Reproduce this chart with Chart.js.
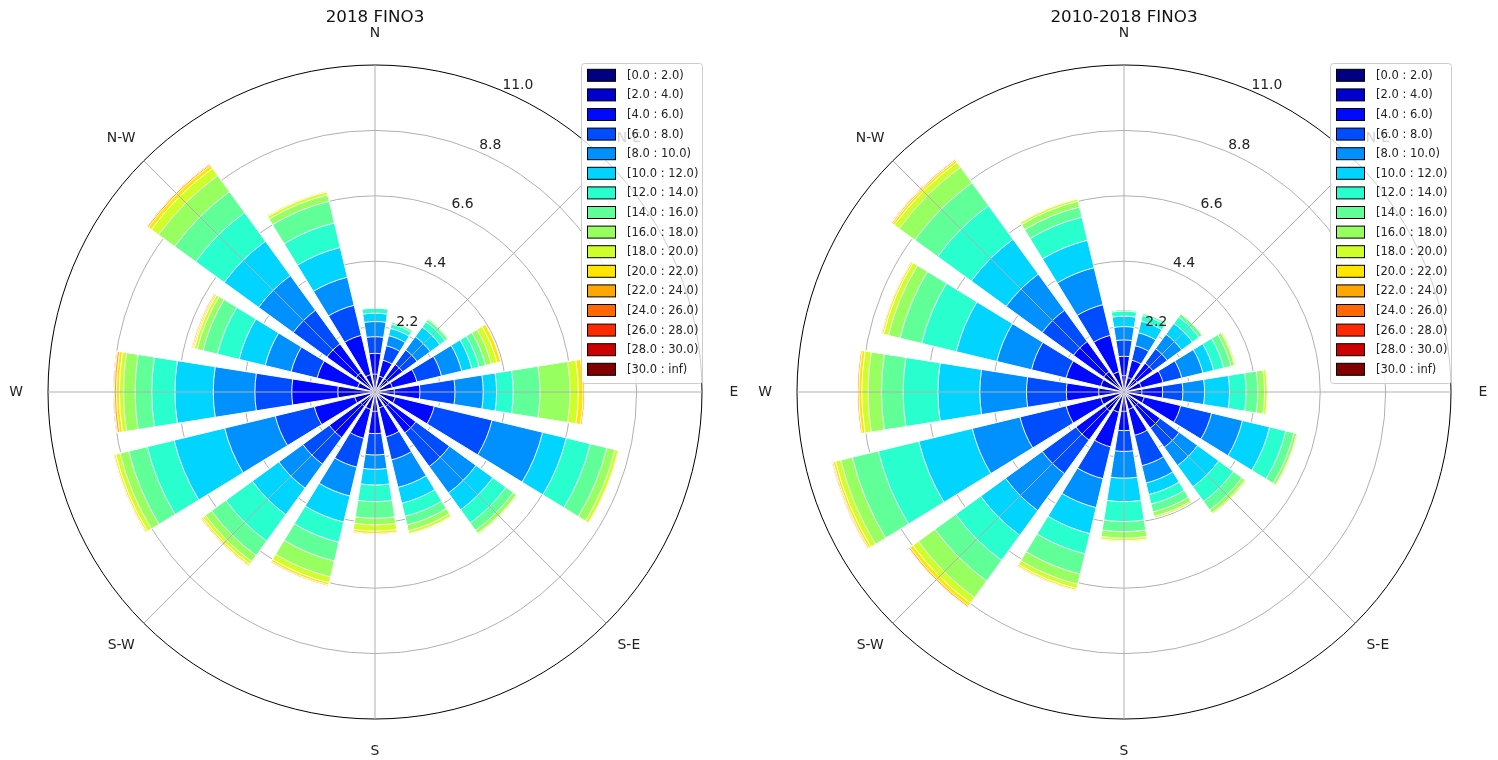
<!DOCTYPE html>
<html>
<head>
<meta charset="utf-8">
<script src="https://cdn.jsdelivr.net/npm/chart.js@4/dist/chart.umd.min.js"></script>
<style>
html, body { margin: 0; padding: 0; background: #ffffff; }
#wrap { display: flex; width: 1498px; height: 760px; }
.cell { width: 749px; height: 760px; position: relative; }
canvas { display: block; }
</style>
</head>
<body>
<div id="wrap">
  <div class="cell"><canvas id="rose2018" width="749" height="760"></canvas></div>
  <div class="cell"><canvas id="rose2010" width="749" height="760"></canvas></div>
</div>
<script>
// ---------- categories / labels ----------
const directions = ['N','NNE','NE','ENE','E','ESE','SE','SSE','S','SSW','SW','WSW','W','WNW','NW','NNW'];
const compassLabels = ['N','N-E','E','S-E','S','S-W','W','N-W'];
const speedBins = ['[0.0 : 2.0)','[2.0 : 4.0)','[4.0 : 6.0)','[6.0 : 8.0)','[8.0 : 10.0)','[10.0 : 12.0)',
  '[12.0 : 14.0)','[14.0 : 16.0)','[16.0 : 18.0)','[18.0 : 20.0)','[20.0 : 22.0)','[22.0 : 24.0)',
  '[24.0 : 26.0)','[26.0 : 28.0)','[28.0 : 30.0)','[30.0 : inf)'];
const radiusTicks = [0, 2.2, 4.4, 6.6, 8.8, 11.0];
const titles = ['2018 FINO3', '2010-2018 FINO3'];

// ---------- 2018 FINO3 : frequency (%) per speed bin, by direction ----------
const y2018_b00 = [0.10,0.10,0.10,0.10,0.10,0.10,0.08,0.08,0.08,0.08,0.08,0.08,0.12,0.08,0.10,0.08];
const y2018_b01 = [0.50,0.45,0.45,0.50,0.55,0.60,0.52,0.47,0.57,0.52,0.52,0.62,1.13,0.52,0.70,0.52];
const y2018_b02 = [0.70,0.55,0.60,0.85,0.86,1.35,1.10,1.00,0.75,1.00,1.30,1.40,1.55,1.40,1.20,1.36];
const y2018_b03 = [0.56,0.50,0.60,0.85,1.18,2.00,1.40,0.80,0.72,1.00,1.10,1.35,1.24,0.90,1.40,1.04];
const y2018_b04 = [0.51,0.35,0.55,0.70,0.95,1.75,1.10,0.95,0.48,1.00,1.00,1.75,1.40,0.90,1.44,0.97];
const y2018_b05 = [0.28,0.25,0.40,0.35,0.45,0.82,0.70,0.55,0.53,0.90,1.10,1.75,1.29,0.90,1.43,1.03];
const y2018_b06 = [0.17,0.15,0.22,0.25,0.56,0.83,0.55,0.45,0.56,0.70,1.10,0.93,0.78,0.75,1.19,0.85];
const y2018_b07 = [0.00,0.07,0.10,0.22,0.90,0.57,0.30,0.30,0.56,0.65,0.60,0.64,0.56,0.50,0.87,0.75];
const y2018_b08 = [0.00,0.00,0.04,0.20,1.01,0.28,0.13,0.20,0.22,0.55,0.25,0.30,0.39,0.20,0.67,0.22];
const y2018_b09 = [0.00,0.00,0.00,0.20,0.28,0.12,0.04,0.10,0.21,0.20,0.11,0.15,0.14,0.10,0.30,0.10];
const y2018_b10 = [0.00,0.00,0.00,0.13,0.16,0.03,0.00,0.03,0.08,0.08,0.06,0.06,0.10,0.05,0.12,0.04];
const y2018_b11 = [0.00,0.00,0.00,0.00,0.05,0.00,0.00,0.00,0.03,0.04,0.03,0.03,0.07,0.04,0.05,0.00];
const y2018_b12 = [0.00,0.00,0.00,0.00,0.02,0.00,0.00,0.00,0.00,0.00,0.00,0.00,0.03,0.02,0.02,0.00];
const y2018_b13 = [0,0,0,0,0,0,0,0,0,0,0,0,0,0,0,0];
const y2018_b14 = [0,0,0,0,0,0,0,0,0,0,0,0,0,0,0,0];
const y2018_b15 = [0,0,0,0,0,0,0,0,0,0,0,0,0,0,0,0];

// ---------- 2010-2018 FINO3 ----------
const y2010_b00 = [0.08,0.08,0.08,0.08,0.08,0.08,0.08,0.08,0.08,0.08,0.10,0.10,0.10,0.10,0.10,0.08];
const y2010_b01 = [0.47,0.42,0.47,0.52,0.52,0.62,0.52,0.52,0.57,0.62,0.70,0.70,0.75,0.70,0.75,0.62];
const y2010_b02 = [0.65,0.60,0.65,0.75,0.70,1.26,0.90,0.90,0.65,1.20,1.20,1.20,1.09,1.20,1.25,1.26];
const y2010_b03 = [0.55,0.50,0.60,0.65,0.68,1.07,0.80,1.05,0.70,1.10,1.40,1.60,1.34,1.20,1.30,1.06];
const y2010_b04 = [0.45,0.45,0.60,0.73,0.73,1.07,0.76,0.60,0.90,1.00,1.53,1.65,1.57,1.20,1.50,1.28];
const y2010_b05 = [0.35,0.40,0.45,0.37,0.84,0.94,0.88,0.40,0.79,0.90,1.03,1.85,1.41,1.40,1.45,0.95];
const y2010_b06 = [0.17,0.20,0.27,0.35,0.56,0.56,0.61,0.33,0.67,0.70,1.04,1.40,1.17,1.20,1.40,0.80];
const y2010_b07 = [0.05,0.07,0.12,0.25,0.39,0.28,0.35,0.27,0.34,0.70,0.86,0.90,0.73,0.75,0.95,0.35];
const y2010_b08 = [0.00,0.00,0.03,0.12,0.23,0.10,0.13,0.15,0.22,0.35,0.69,0.40,0.45,0.40,0.65,0.20];
const y2010_b09 = [0.00,0.00,0.00,0.05,0.09,0.04,0.05,0.06,0.08,0.15,0.23,0.18,0.21,0.17,0.20,0.08];
const y2010_b10 = [0.00,0.00,0.00,0.00,0.03,0.00,0.00,0.00,0.04,0.06,0.12,0.08,0.10,0.06,0.08,0.03];
const y2010_b11 = [0.00,0.00,0.00,0.00,0.00,0.00,0.00,0.00,0.00,0.03,0.05,0.04,0.05,0.03,0.04,0.00];
const y2010_b12 = [0.00,0.00,0.00,0.00,0.00,0.00,0.00,0.00,0.00,0.00,0.02,0.02,0.00,0.00,0.02,0.00];
const y2010_b13 = [0,0,0,0,0,0,0,0,0,0,0,0,0,0,0,0];
const y2010_b14 = [0,0,0,0,0,0,0,0,0,0,0,0,0,0,0,0];
const y2010_b15 = [0,0,0,0,0,0,0,0,0,0,0,0,0,0,0,0];

const series2018 = [y2018_b00,y2018_b01,y2018_b02,y2018_b03,y2018_b04,y2018_b05,y2018_b06,y2018_b07,
                    y2018_b08,y2018_b09,y2018_b10,y2018_b11,y2018_b12,y2018_b13,y2018_b14,y2018_b15];
const series2010 = [y2010_b00,y2010_b01,y2010_b02,y2010_b03,y2010_b04,y2010_b05,y2010_b06,y2010_b07,
                    y2010_b08,y2010_b09,y2010_b10,y2010_b11,y2010_b12,y2010_b13,y2010_b14,y2010_b15];

// ---------- styles ----------
const binColors = ['#000080','#0000cd','#0008ff','#004dff','#0091ff','#00d4ff','#29ffce','#60ff97',
                   '#97ff60','#ceff29','#ffe600','#ffa700','#ff6800','#ff2900','#cd0000','#800000'];
const FONT = '"DejaVu Sans", "Liberation Sans", sans-serif';
const WEDGE_DEG = 18;   // 0.8 of a 22.5 deg sector
const GAP_DEG = 4.5;

function polarPoint(s, r, deg) {
  const a = deg * Math.PI / 180;
  return [s.xCenter + r * Math.sin(a), s.yCenter - r * Math.cos(a)];
}

function buildDatasets(series) {
  let run = directions.map(() => 0);
  return series.map((bin, k) => {
    run = run.map((v, i) => v + bin[i]);
    const cum = run.slice();
    const data = [];
    directions.forEach((d, i) => { data.push(+cum[i].toFixed(4)); data.push(0); });
    const shown = (ctx) => ctx.dataIndex % 2 === 0 && bin[ctx.dataIndex / 2] > 0;
    return {
      label: speedBins[k],
      data: data,
      backgroundColor: (ctx) => shown(ctx) ? binColors[k] : 'rgba(0,0,0,0)',
      borderColor: '#ffffff',
      borderWidth: (ctx) => shown(ctx) ? 1 : 0,
      angle: (ctx) => ctx.dataIndex % 2 === 0 ? WEDGE_DEG : GAP_DEG
    };
  });
}

const roseDecor = {
  id: 'roseDecor',
  afterDatasetsDraw(chart) {
    const s = chart.scales.r, ctx = chart.ctx;
    const R = s.getDistanceFromCenterForValue(s.max);
    ctx.save();
    ctx.strokeStyle = '#b0b0b0';
    ctx.lineWidth = 1;
    compassLabels.forEach((_, i) => {
      const p = polarPoint(s, R, i * 45);
      ctx.beginPath();
      ctx.moveTo(s.xCenter, s.yCenter);
      ctx.lineTo(p[0], p[1]);
      ctx.stroke();
    });
    ctx.restore();
  },
  afterDraw(chart) {
    const s = chart.scales.r, ctx = chart.ctx;
    const R = s.getDistanceFromCenterForValue(s.max);
    ctx.save();
    ctx.textAlign = 'center';
    ctx.textBaseline = 'middle';
    ctx.fillStyle = '#222222';
    // radial tick labels
    ctx.font = '13.9px ' + FONT;
    s.ticks.forEach((t) => {
      if (t.value <= 0) return;
      const r = s.getDistanceFromCenterForValue(t.value) + 11;
      const p = polarPoint(s, r, 25);
      ctx.fillText(t.value.toFixed(1), p[0], p[1]);
    });
    // compass labels
    compassLabels.forEach((lab, i) => {
      const p = polarPoint(s, R + 32, i * 45);
      ctx.fillText(lab, p[0], p[1]);
    });
    // legend
    const lx = 581, ly = 63, lw = 121, lh = 320;
    ctx.beginPath();
    if (ctx.roundRect) ctx.roundRect(lx + 0.5, ly + 0.5, lw, lh, 3); else ctx.rect(lx + 0.5, ly + 0.5, lw, lh);
    ctx.fillStyle = 'rgba(255,255,255,0.8)';
    ctx.fill();
    ctx.strokeStyle = '#cccccc';
    ctx.lineWidth = 1;
    ctx.stroke();
    ctx.font = '11.5px ' + FONT;
    ctx.textAlign = 'left';
    chart.data.datasets.forEach((ds, k) => {
      const cy = 75.3 + 19.6 * k;
      ctx.fillStyle = binColors[k];
      ctx.fillRect(587.5, cy - 6, 28, 12);
      ctx.strokeStyle = '#000000';
      ctx.lineWidth = 1;
      ctx.strokeRect(587.5, cy - 6, 28, 12);
      ctx.fillStyle = '#222222';
      ctx.fillText(ds.label, 627, cy + 0.5);
    });
    ctx.restore();
  }
};

function makeRose(canvasId, title, series) {
  const labels = [];
  directions.forEach((d) => { labels.push(d); labels.push(''); });
  return new Chart(document.getElementById(canvasId), {
    type: 'polarArea',
    data: { labels: labels, datasets: buildDatasets(series) },
    options: {
      responsive: false,
      animation: false,
      events: [],
      layout: { padding: { left: 1, right: 0, top: 0, bottom: 41 } },
      plugins: {
        legend: { display: false },
        tooltip: { enabled: false },
        title: {
          display: true,
          text: title,
          color: '#111111',
          font: { family: FONT, size: 16.7, weight: 'normal', lineHeight: '20px' },
          padding: { top: 8, bottom: 37 }
        }
      },
      scales: {
        r: {
          min: radiusTicks[0],
          max: radiusTicks[radiusTicks.length - 1],
          startAngle: -WEDGE_DEG / 2,
          z: 1,
          afterBuildTicks: (sc) => { sc.ticks = radiusTicks.map((v) => ({ value: v })); },
          ticks: { display: false },
          grid: {
            circular: true,
            color: (c) => (c.tick && c.tick.value >= radiusTicks[radiusTicks.length - 1]) ? '#000000' : '#b0b0b0',
            lineWidth: 1
          },
          angleLines: { display: false },
          pointLabels: { display: false }
        }
      }
    },
    plugins: [roseDecor]
  });
}

makeRose('rose2018', titles[0], series2018);
makeRose('rose2010', titles[1], series2010);
</script>
</body>
</html>
